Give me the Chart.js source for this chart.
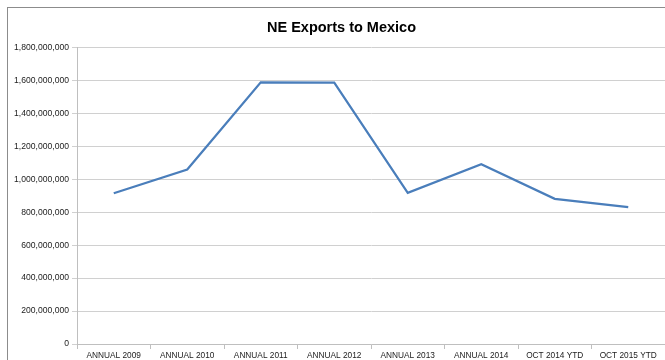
<!DOCTYPE html>
<html>
<head>
<meta charset="utf-8">
<script src="https://cdn.jsdelivr.net/npm/chart.js@4"></script>
<style>
    html, body { margin: 0; padding: 0; background: #fff; }
    #wrap { position: relative; width: 665px; height: 360px; overflow: hidden; }
    #frame {
        position: absolute; left: 7px; top: 7px; width: 700px; height: 400px;
        border: 1px solid #8c8c8c; pointer-events: none;
    }
</style>
</head>
<body>
<div id="wrap">
    <canvas id="myChart" width="665" height="360"></canvas>
    <div id="frame"></div>
</div>
<script>
// Chart data
const categories = ['ANNUAL 2009', 'ANNUAL 2010', 'ANNUAL 2011', 'ANNUAL 2012',
                    'ANNUAL 2013', 'ANNUAL 2014', 'OCT 2014 YTD', 'OCT 2015 YTD'];
const exportValues = [915000000, 1059000000, 1588000000, 1586000000,
                      917000000, 1091000000, 881000000, 830000000];
const yTicks = [0, 200000000, 400000000, 600000000, 800000000,
                1000000000, 1200000000, 1400000000, 1600000000, 1800000000];

// the original chart frame runs past the right edge, so its title sits a bit right of centre
const shiftTitle = {
    id: 'shiftTitle',
    afterLayout: function(chart) {
        if (chart.titleBlock) chart.titleBlock.left += 18;
    }
};

document.addEventListener('DOMContentLoaded', function() {
    const ctx = document.getElementById('myChart').getContext('2d');
    window.myChart = new Chart(ctx, {
        type: 'line',
        data: {
            labels: categories,
            datasets: [{
                label: 'NE Exports to Mexico',
                data: exportValues,
                borderColor: '#4a7ebb',
                borderWidth: 2.25,
                pointRadius: 0,
                tension: 0,
                fill: false
            }]
        },
        plugins: [shiftTitle],
        options: {
            responsive: false,
            animation: false,
            plugins: {
                legend: { display: false },
                tooltip: { enabled: false },
                title: {
                    display: true,
                    text: 'NE Exports to Mexico',
                    color: '#000',
                    font: { family: 'Liberation Sans', size: 14.5, weight: 'bold', lineHeight: 1.2 },
                    padding: { top: 19, bottom: 11 }
                }
            },
            scales: {
                x: {
                    offset: true,
                    grid: {
                        offset: true,
                        drawOnChartArea: false,
                        drawTicks: true,
                        tickLength: 5,
                        color: '#bfbfbf'
                    },
                    border: { color: '#bfbfbf' },
                    ticks: {
                        color: '#222',
                        font: { family: 'Liberation Sans', size: 8.3 },
                        padding: 2,
                        maxRotation: 0,
                        autoSkip: false
                    },
                    afterFit: function(scale) { scale.height = 16; }
                },
                y: {
                    min: 0,
                    max: 1800000000,
                    afterBuildTicks: function(scale) {
                        scale.ticks = yTicks.map(v => ({ value: v }));
                    },
                    grid: {
                        color: '#d0d0d0',
                        tickLength: 5,
                        drawTicks: true
                    },
                    border: { color: '#bfbfbf' },
                    ticks: {
                        color: '#222',
                        font: { family: 'Liberation Sans', size: 8.6 },
                        padding: 3,
                        callback: function(v) { return v.toLocaleString('en-US'); }
                    },
                    afterFit: function(scale) { scale.width = 77; }
                }
            }
        }
    });
});
</script>
</body>
</html>
